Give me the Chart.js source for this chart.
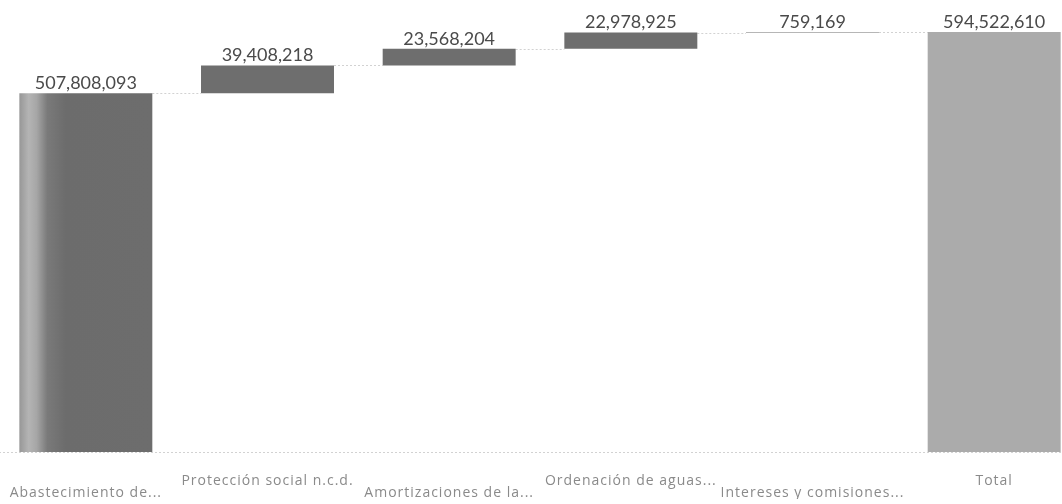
<!DOCTYPE html>
<html>
<head>
<meta charset="utf-8">
<script src="https://cdn.jsdelivr.net/npm/chart.js@4.4.1/dist/chart.umd.min.js"></script>
<style>
  html, body { margin: 0; padding: 0; background: #fff; overflow: hidden; width: 1062px; height: 504px; }
  #wrap { position: absolute; left: -5px; top: 0; width: 1090px; height: 504px; }
</style>
</head>
<body>
<div id="wrap"><canvas id="c"></canvas></div>
<script>
// Waterfall: starting amount, four additions, and the closing total
const categories = ['Abastecimiento de...', 'Protección social n.c.d.', 'Amortizaciones de la...', 'Ordenación de aguas...', 'Intereses y comisiones...', 'Total'];
const increments = [507808093, 39408218, 23568204, 22978925, 759169];
const totalValue = 594522610;

// Floating [start, end] ranges built from the running sum
const ranges = [];
let running = 0;
for (const inc of increments) {
  ranges.push([running, running + inc]);
  running += inc;
}
ranges.push([0, totalValue]);
const shownValues = [...increments, totalValue];

const fmt = v => v.toLocaleString('en-US');

function barFill(ctx) {
  const i = ctx.dataIndex;
  if (i === categories.length - 1) return '#ababab';
  if (i !== 0) return '#6e6e6e';
  const chart = ctx.chart;
  const xs = chart.scales && chart.scales.x;
  if (!chart.chartArea || !xs) return '#6e6e6e';
  const slot = xs.width / categories.length;
  const w = slot * 0.732;
  const cx = xs.getPixelForValue(0);
  const g = chart.ctx.createLinearGradient(cx - w / 2, 0, cx + w / 2, 0);
  g.addColorStop(0.00, '#979797');
  g.addColorStop(0.07, '#b4b4b4');
  g.addColorStop(0.13, '#a6a6a6');
  g.addColorStop(0.21, '#7a7a7a');
  g.addColorStop(0.35, '#6c6c6c');
  g.addColorStop(1.00, '#6d6d6d');
  return g;
}

const decor = {
  id: 'waterfallDecor',
  beforeDraw(chart) {
    // wider tracking for the category labels
    chart.ctx.letterSpacing = '1px';
  },
  beforeDatasetsDraw(chart) {
    const { ctx } = chart;
    ctx.letterSpacing = '0px';
    const ys = chart.scales.y;
    const meta = chart.getDatasetMeta(0);
    ctx.save();
    ctx.strokeStyle = '#d2d2d2';
    ctx.lineWidth = 1;
    ctx.setLineDash([2, 2]);
    // baseline
    const y0 = Math.round(ys.getPixelForValue(0)) + 0.5;
    ctx.beginPath();
    ctx.moveTo(0, y0);
    ctx.lineTo(chart.width, y0);
    ctx.stroke();
    // connectors between consecutive bar tops
    for (let i = 0; i < meta.data.length - 1; i++) {
      const a = meta.data[i], b = meta.data[i + 1];
      const level = ranges[i][1];
      const y = Math.round(ys.getPixelForValue(level)) + 0.5;
      ctx.beginPath();
      ctx.moveTo(a.x + a.width / 2, y);
      ctx.lineTo(b.x - b.width / 2, y);
      ctx.stroke();
    }
    ctx.restore();
  },
  afterDatasetsDraw(chart) {
    const { ctx } = chart;
    const ys = chart.scales.y;
    const meta = chart.getDatasetMeta(0);
    ctx.save();
    ctx.font = '18px Lato';
    ctx.fillStyle = '#4a4a4a';
    ctx.textAlign = 'center';
    ctx.textBaseline = 'bottom';
    meta.data.forEach((bar, i) => {
      const top = ys.getPixelForValue(ranges[i][1]);
      ctx.fillText(fmt(shownValues[i]), bar.x, top - 1);
    });
    ctx.restore();
  }
};

new Chart(document.getElementById('c'), {
  type: 'bar',
  data: {
    labels: categories,
    datasets: [{
      data: ranges,
      backgroundColor: barFill,
      borderWidth: 0,
      borderSkipped: false,
      categoryPercentage: 1,
      barPercentage: 0.732
    }]
  },
  options: {
    responsive: true,
    maintainAspectRatio: false,
    animation: false,
    layout: { padding: { top: 32, bottom: 5, left: 0, right: 0 } },
    plugins: { legend: { display: false }, tooltip: { enabled: false } },
    scales: {
      x: {
        offset: true,
        grid: { display: false },
        border: { display: false },
        afterFit(scale) { scale.height = 47; },
        ticks: {
          color: '#8a8a8a',
          font: { family: 'Open Sans', size: 14, lineHeight: '12px' },
          padding: 15,
          autoSkip: false,
          maxRotation: 0,
          minRotation: 0,
          callback: (v, i) => (i % 2 === 0 ? ['', categories[i]] : categories[i])
        }
      },
      y: {
        display: false,
        min: 0,
        max: totalValue
      }
    }
  },
  plugins: [decor]
});
</script>
</body>
</html>
